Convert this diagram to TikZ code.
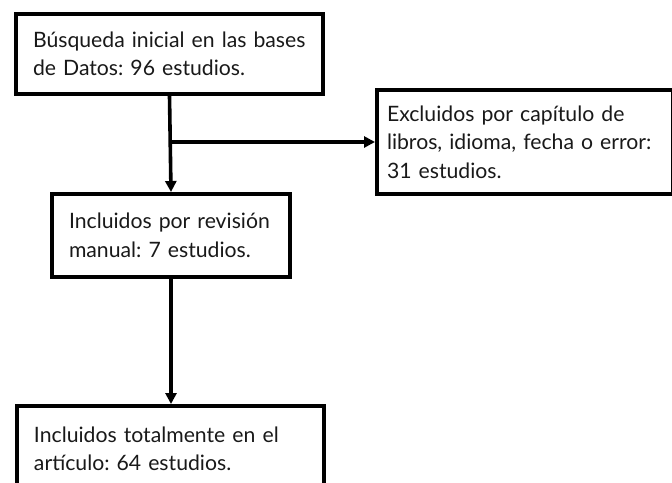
\documentclass[tikz,border=0pt]{standalone}
\usepackage{fontspec}
\setmainfont{Lato}
\usepackage{tikz}
\usetikzlibrary{arrows.meta, positioning}

\tikzset{
  caja/.style={draw, line width=4pt, rectangle, anchor=north west, align=left,
    inner xsep=17pt, inner ysep=0pt, text=black!90,
    font=\fontsize{21.2}{28.5}\selectfont},
  flecha/.style={line width=3.6pt, -{Triangle[length=11pt,width=11pt]}}
}

\begin{document}
\frenchspacing
\begin{tikzpicture}[x=1pt, y=1pt]
        % Page frame
        \useasboundingbox (0,0) rectangle (672,-482);
        \clip (0,0) rectangle (672,-482);
        % Boxes
        \node[caja, text width=273, minimum height=80] (busqueda) at (14,-12)
          {Búsqueda inicial en las bases\\de Datos: 96 estudios.};
        \node[caja, inner xsep=10pt, text width=276, minimum height=104] (excluidos) at (375,-88)
          {Excluidos por capítulo de\\libros, idioma, fecha o error:\\31 estudios.};
        \node[caja, text width=204, minimum height=83] (revision) at (50,-192)
          {Incluidos por revisión\\manual: 7 estudios.};
        \node[caja, text width=273, minimum height=86] (total) at (15,-404)
          {Incluidos totalmente en el\\artículo: 64 estudios.};
        % Connectors
        \coordinate (rama) at (busqueda.south |- excluidos.west);
        \draw[flecha] (busqueda.south) -- (revision.north);
        \draw[flecha] (rama) -- (excluidos.west);
        \draw[flecha] (revision.south) -- (total.north -| revision.south);
      \end{tikzpicture}
\end{document}
